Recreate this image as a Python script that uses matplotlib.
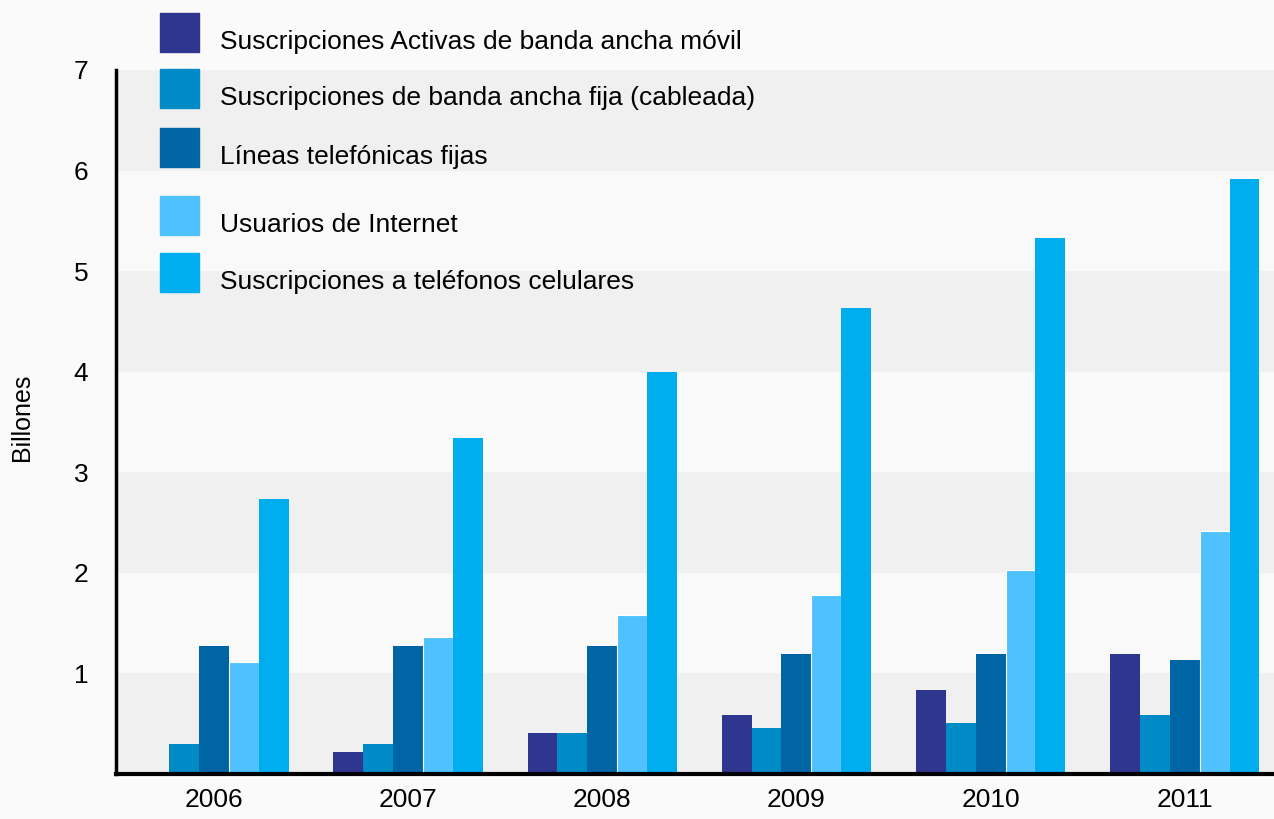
import numpy as np
import matplotlib.pyplot as plt
from matplotlib.patches import Rectangle

plt.rcParams['font.family'] = ['Liberation Sans', 'DejaVu Sans']

years = ['2006', '2007', '2008', '2009', '2010', '2011']
series = [
    'Suscripciones Activas de banda ancha móvil',
    'Suscripciones de banda ancha fija (cableada)',
    'Líneas telefónicas fijas',
    'Usuarios de Internet',
    'Suscripciones a teléfonos celulares',
]
movil = [0.0, 0.22, 0.41, 0.59, 0.84, 1.19]
fija = [0.30, 0.30, 0.41, 0.46, 0.51, 0.59]
lineas = [1.27, 1.27, 1.27, 1.19, 1.19, 1.13]
internet = [1.11, 1.36, 1.58, 1.78, 2.03, 2.42]
celulares = [2.73, 3.34, 4.00, 4.63, 5.33, 5.92]
colors = ['#2e368f', '#008bc6', '#0065a4', '#50c1ff', '#00adee']

fig = plt.figure(figsize=(12.74, 8.19), dpi=100, facecolor='#fafafa')
ax = fig.add_axes([116 / 1274, 45 / 819, 1 - 116 / 1274, 704 / 819])
ax.set_facecolor('#f9f9f9')

for lo in [0, 2, 4, 6]:
    ax.axhspan(lo, lo + 1, color='#f0f0f0', lw=0, zorder=0)

x = np.arange(len(years))
w = 0.154
for i, (vals, c) in enumerate(zip([movil, fija, lineas, internet, celulares], colors)):
    ec = 'white' if i == 3 else 'none'
    ax.bar(x + (i - 2) * w, vals, w, color=c, edgecolor=ec, lw=0.8, zorder=2)

ax.set_xlim(-0.505, 5.46)
ax.set_ylim(0, 7)
ax.set_xticks(x)
ax.set_xticklabels(years, fontsize=19)
ax.set_yticks(range(1, 8))
ax.set_yticklabels([str(v) for v in range(1, 8)], fontsize=19)
ax.tick_params(length=0, pad=10)
ax.tick_params(axis='y', pad=20)
for s in ['top', 'right']:
    ax.spines[s].set_visible(False)
ax.spines['left'].set_linewidth(2.5)
ax.spines['bottom'].set_linewidth(3)
ax.set_ylabel('Billones', fontsize=18)
ax.yaxis.set_label_coords(-0.071, 0.507)

# legend drawn by hand (uneven spacing)
leg_y = [13, 69, 128, 196, 253]
for name, c, yt in zip(series, colors, leg_y):
    fig.patches.append(Rectangle((160 / 1274, 1 - (yt + 39) / 819), 39 / 1274, 39 / 819,
                                 transform=fig.transFigure, color=c))
    fig.text(220 / 1274, 1 - (yt + 29) / 819, name, fontsize=19, va='center')

fig.savefig('out.png', dpi=100, facecolor=fig.get_facecolor())
